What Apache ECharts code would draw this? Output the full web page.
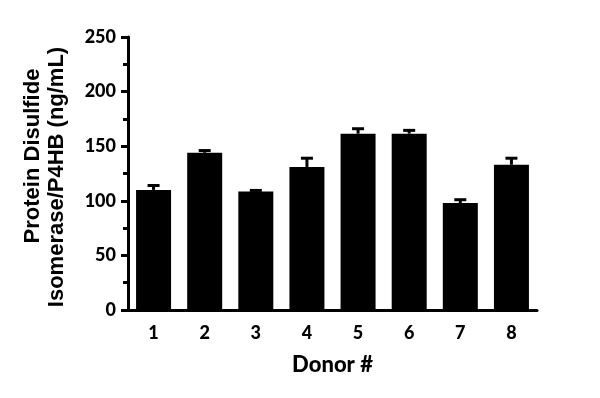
<!DOCTYPE html>
<html><head><meta charset="utf-8">
<script src="https://cdn.jsdelivr.net/npm/echarts@6/dist/echarts.min.js"></script>
<style>html,body{margin:0;padding:0;background:#fff}#c{width:600px;height:398px}</style>
</head><body><div id="c"></div>
<script>
const categories = ['1','2','3','4','5','6','7','8'];
const means = [110, 144, 108.5, 131, 161.5, 161.5, 98, 133];
const errors = [4, 2, 1, 8, 4.5, 3, 3, 6];
const yTitleLines = ['Protein Disulfide', 'Isomerase/P4HB (ng/mL)'];
const xTitle = 'Donor #';

const chart = echarts.init(document.getElementById('c'), null, {renderer: 'canvas'});
const tickFont = {fontFamily: 'Lato', fontWeight: 900, fontSize: 18, color: '#000'};
const errData = means.map((m, i) => [i, m, errors[i]]);
chart.setOption({
  animation: false,
  backgroundColor: '#fff',
  grid: {left: 128, right: 63, top: 37, bottom: 88, containLabel: false},
  xAxis: {
    type: 'category', data: categories,
    axisLine: {lineStyle: {color: '#000', width: 3}},
    axisTick: {alignWithLabel: true, length: 7, lineStyle: {color: '#000', width: 3}},
    axisLabel: Object.assign({margin: 14}, tickFont),
    name: xTitle, nameLocation: 'middle', nameGap: 44,
    nameTextStyle: {fontFamily: 'Lato', fontWeight: 900, fontSize: 22, color: '#000'}
  },
  yAxis: {
    type: 'value', min: 0, max: 250, interval: 50,
    axisLine: {show: true, lineStyle: {color: '#000', width: 3}},
    axisTick: {show: true, length: 7, lineStyle: {color: '#000', width: 3}},
    minorTick: {show: true, splitNumber: 2, length: 5, lineStyle: {color: '#000', width: 3}},
    splitLine: {show: false},
    axisLabel: Object.assign({margin: 12}, tickFont)
  },
  graphic: [
    {type: 'text', x: 33, y: 156, rotation: Math.PI / 2,
     style: {text: yTitleLines[0], font: 'bold 22px "Liberation Sans"', fill: '#000', align: 'center', verticalAlign: 'middle'}},
    {type: 'text', x: 57, y: 177, rotation: Math.PI / 2,
     style: {text: yTitleLines[1], font: 'bold 22px "Liberation Sans"', fill: '#000', align: 'center', verticalAlign: 'middle'}}
  ],
  series: [
    {type: 'bar', data: means, barWidth: 35, itemStyle: {color: '#000'}},
    {type: 'custom', data: errData, encode: {x: 0, y: 1}, z: 3,
     renderItem: function (params, api) {
       const i = api.value(0), m = api.value(1), e = api.value(2);
       const base = api.coord([i, m]);
       const top = api.coord([i, m + e]);
       const hw = 6;
       const st = {stroke: '#000', lineWidth: 3};
       return {type: 'group', children: [
         {type: 'line', shape: {x1: base[0], y1: base[1], x2: top[0], y2: top[1]}, style: st},
         {type: 'line', shape: {x1: top[0] - hw, y1: top[1], x2: top[0] + hw, y2: top[1]}, style: st}
       ]};
     }}
  ]
});
</script></body></html>
